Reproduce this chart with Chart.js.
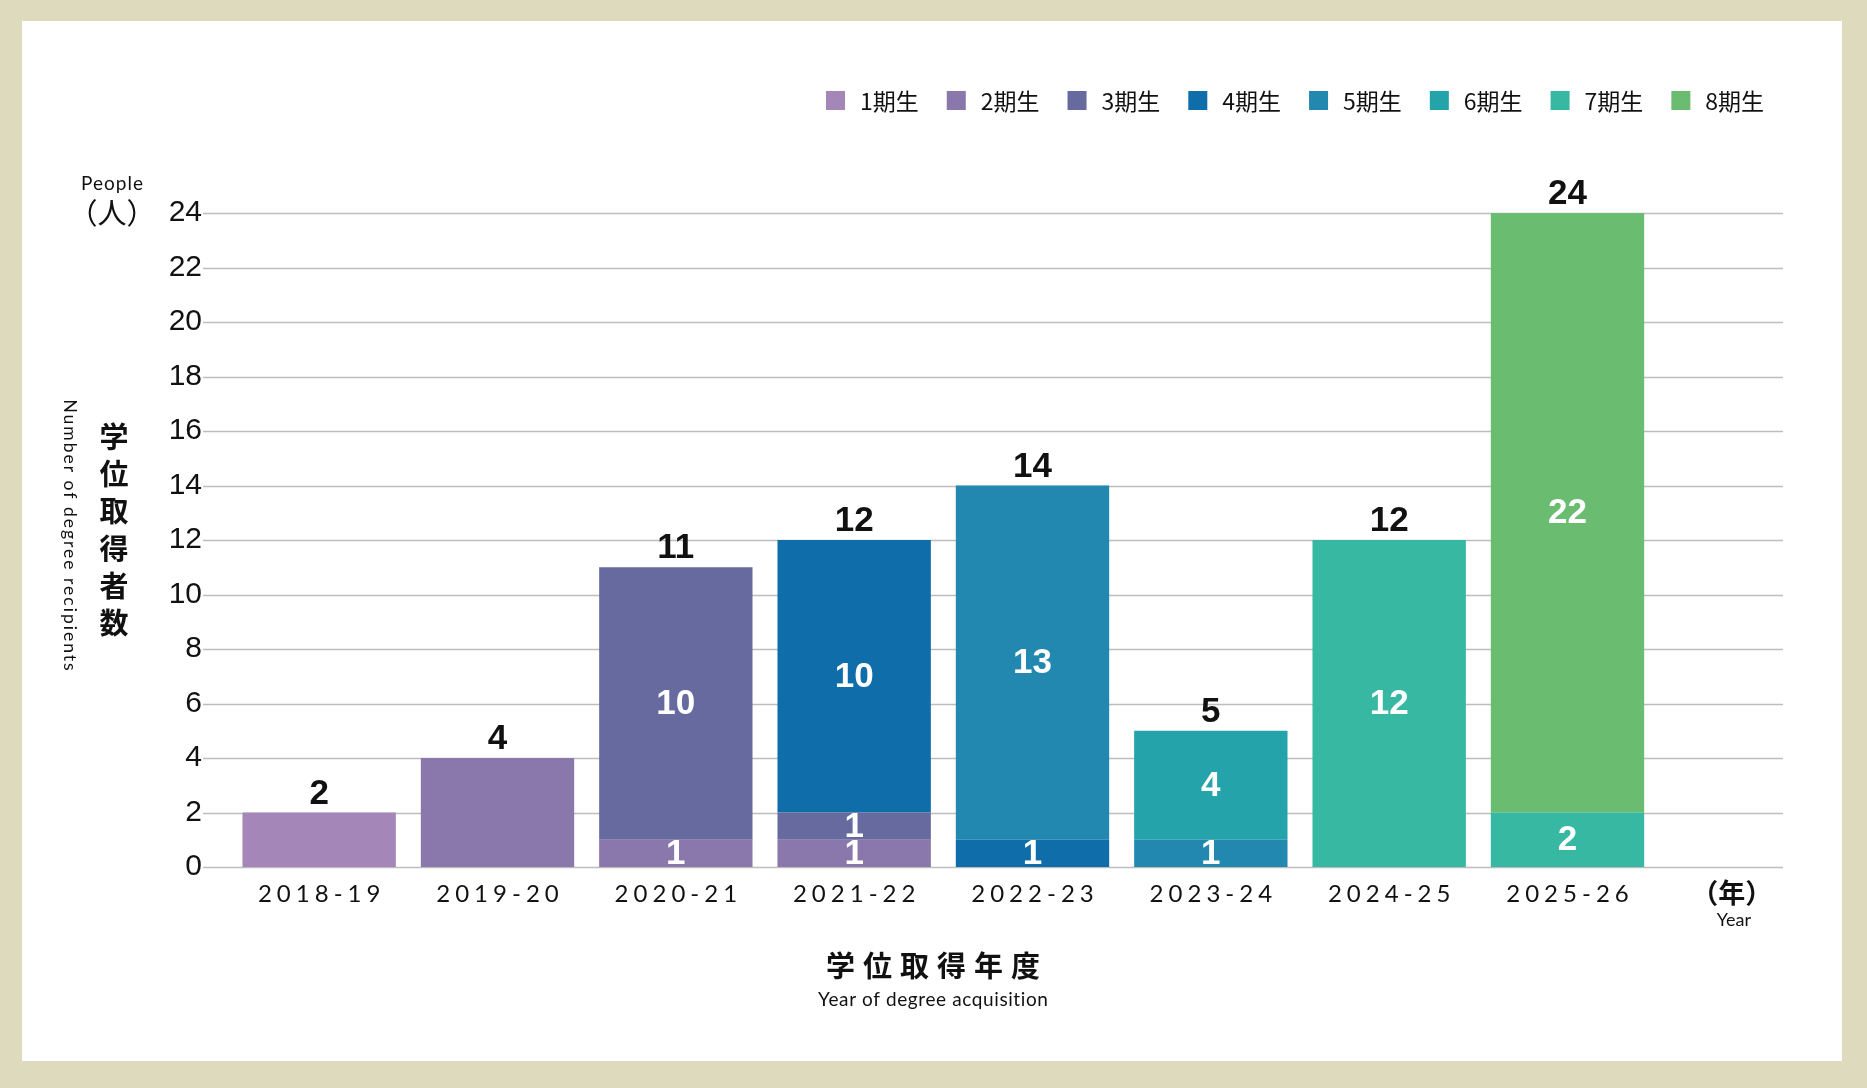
<!DOCTYPE html>
<html><head><meta charset="utf-8">
<script src="https://cdn.jsdelivr.net/npm/chart.js@4.4.1/dist/chart.umd.min.js"></script>
<style>
html,body{margin:0;padding:0;background:#DEDABD;width:1867px;height:1088px;overflow:hidden}
#panel{position:absolute;left:22px;top:21px;width:1820px;height:1040px;background:#fff}
#wrap{position:absolute;left:0;top:0;width:1867px;height:1088px}
</style></head><body>
<div id="panel"></div>
<div id="wrap"><canvas id="c" width="1867" height="1088"></canvas></div>
<script>
// ---- data ----
const years = ['2018-19','2019-20','2020-21','2021-22','2022-23','2023-24','2024-25','2025-26'];
const cohorts = ['1期生','2期生','3期生','4期生','5期生','6期生','7期生','8期生'];
const cohort1 = [2, null, null, null, null, null, null, null];
const cohort2 = [null, 4, 1, 1, null, null, null, null];
const cohort3 = [null, null, 10, 1, null, null, null, null];
const cohort4 = [null, null, null, 10, 1, null, null, null];
const cohort5 = [null, null, null, null, 13, 1, null, null];
const cohort6 = [null, null, null, null, null, 4, null, null];
const cohort7 = [null, null, null, null, null, null, 12, 2];
const cohort8 = [null, null, null, null, null, null, null, 22];
const yTickValues = [0,2,4,6,8,10,12,14,16,18,20,22,24];
const innerLabelShown = [false,false,true,true,true,true,true,true];
const yearUnitLabel = '（年）';
const yearUnitEn = 'Year';

// ---- styles ----
const colors = ['#A487B8','#8A77AB','#676A9F','#0F6EAA','#2388B0','#24A3AB','#37B8A3','#6ABD70'];
const series = [cohort1,cohort2,cohort3,cohort4,cohort5,cohort6,cohort7,cohort8];
const labels = [...years, ''];

const datasets = series.map((d,i)=>({
  label: cohorts[i],
  data: [...d, null],
  backgroundColor: colors[i],
  borderWidth: 0,
  categoryPercentage: 1,
  barPercentage: 0.86
}));

const totals = years.map((_,j)=>series.reduce((s,d)=>s+(d[j]||0),0));

function centerText(ctx, txt, x, y, spacing){
  ctx.letterSpacing = spacing + 'px';
  ctx.fillText(txt, x + spacing/2, y);
  ctx.letterSpacing = '0px';
}

const deco = {
  id:'deco',
  beforeDatasetsDraw(chart){
    const ctx = chart.ctx, ys = chart.scales.y;
    ctx.save();
    ctx.strokeStyle = '#BDBDBD';
    ctx.lineWidth = 1.4;
    yTickValues.forEach(v=>{
      const py = Math.round(ys.getPixelForValue(v)) + 0.5;
      ctx.beginPath(); ctx.moveTo(203, py); ctx.lineTo(1783, py); ctx.stroke();
    });
    ctx.restore();
  },
  afterDatasetsDraw(chart){
    const ctx = chart.ctx, ys = chart.scales.y, xs = chart.scales.x;
    ctx.save();
    ctx.textAlign = 'center';
    ctx.font = 'bold 35px "Liberation Sans", Arial, sans-serif';
    ctx.fillStyle = '#ffffff';
    ctx.textBaseline = 'middle';
    chart.data.datasets.forEach((ds,i)=>{
      const meta = chart.getDatasetMeta(i);
      ds.data.forEach((v,j)=>{
        if (!v || !innerLabelShown[j]) return;
        const el = meta.data[j];
        ctx.fillText(String(v), el.x, (el.y + el.base)/2 + 1);
      });
    });
    ctx.fillStyle = '#111111';
    ctx.textBaseline = 'alphabetic';
    totals.forEach((t,j)=>{
      ctx.fillText(String(t), xs.getPixelForValue(j), ys.getPixelForValue(t) - 9);
    });
    ctx.restore();
  },
  afterDraw(chart){
    const ctx = chart.ctx, xs = chart.scales.x;
    ctx.save();
    ctx.fillStyle = '#111111';
    ctx.textAlign = 'center';
    ctx.textBaseline = 'middle';
    ctx.font = '24px Lato, "Open Sans", sans-serif';
    years.forEach((y,j)=> centerText(ctx, y, xs.getPixelForValue(j), 894, 5));
    const ux = xs.getPixelForValue(years.length) - 14;
    ctx.font = 'bold 27px "Noto Sans CJK JP", sans-serif';
    ctx.fillText(yearUnitLabel, ux, 893);
    ctx.font = '18px Lato, "Open Sans", sans-serif';
    ctx.fillText(yearUnitEn, ux + 2, 920);
    ctx.font = 'bold 29px "Noto Sans CJK JP", sans-serif';
    centerText(ctx, '学位取得年度', 933, 966, 8);
    ctx.font = '19px Lato, "Open Sans", sans-serif';
    centerText(ctx, 'Year of degree acquisition', 933, 1000, 0.6);
    ctx.font = '19px Lato, "Open Sans", sans-serif';
    centerText(ctx, 'People', 112, 184, 1);
    ctx.font = '29px "Noto Sans CJK JP", sans-serif';
    ctx.fillText('（人）', 112, 213);
    ctx.font = 'bold 29px "Noto Sans CJK JP", sans-serif';
    const yt = '学位取得者数';
    for (let k=0;k<yt.length;k++) ctx.fillText(yt[k], 114, 437 + k*37.2);
    ctx.save();
    ctx.translate(70, 535);
    ctx.rotate(Math.PI/2);
    ctx.font = '17.5px Lato, "Open Sans", sans-serif';
    centerText(ctx, 'Number of degree recipients', 0, 0, 2);
    ctx.restore();
    ctx.textAlign = 'left';
    ctx.font = '23px "Noto Sans CJK JP", sans-serif';
    let lx = 826;
    chart.data.datasets.forEach((ds,i)=>{
      ctx.fillStyle = ds.backgroundColor;
      ctx.fillRect(lx, 91, 19, 19);
      ctx.fillStyle = '#111111';
      ctx.fillText(ds.label, lx + 34, 101);
      lx += 34 + ctx.measureText(ds.label).width + 28;
    });
    ctx.restore();
  }
};

new Chart(document.getElementById('c'), {
  type: 'bar',
  data: { labels, datasets },
  options: {
    responsive: false,
    devicePixelRatio: 1,
    animation: false,
    layout: { padding: { top: 213, right: 32, left: 0, bottom: 0 } },
    plugins: { legend: { display: false }, tooltip: { enabled: false }, title: { display: false } },
    scales: {
      x: {
        stacked: true,
        grid: { display: false, drawTicks: false },
        border: { display: false },
        ticks: { display: false },
        afterFit: s => { s.height = 221; }
      },
      y: {
        stacked: true,
        min: 0, max: 24,
        afterBuildTicks: s => { s.ticks = yTickValues.map(v=>({value:v})); },
        grid: { display: false, drawTicks: false },
        border: { display: false },
        ticks: { padding: 28, color: '#111111', font: { family: '"Liberation Sans", Arial, sans-serif', size: 30 } },
        afterFit: s => { s.width = 230; }
      }
    }
  },
  plugins: [deco]
});
</script>
</body></html>
